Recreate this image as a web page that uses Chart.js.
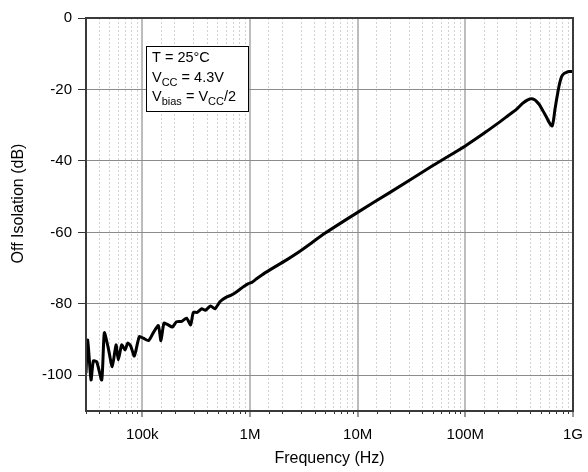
<!DOCTYPE html>
<html><head><meta charset="utf-8">
<script src="https://cdn.jsdelivr.net/npm/chart.js@4.4.1/dist/chart.umd.min.js"></script>
<style>html,body{margin:0;padding:0;background:#fff;}canvas{display:block;}</style>
</head><body>
<canvas id="c" width="588" height="472"></canvas>
<script>
// ---- data ----
const freqHz = [
  30000, 31100, 33400, 35100, 37700, 42000, 44400, 48300, 52600, 57000,
  59800, 64400, 69100, 73200, 78000, 84300, 93800, 102000, 114000, 126000,
  141000, 149000, 159000, 174000, 190000, 208000, 232000, 258000, 281000, 298000,
  324000, 356000, 386000, 430000, 473000, 526000, 598000, 676000, 753000, 852000,
  957000, 1040000, 1150000, 1290000, 1530000, 1830000, 2190000, 3000000, 5000000, 10000000,
  20000000, 50000000, 100000000, 150000000, 200000000, 250000000, 300000000, 340000000, 380000000, 413000000,
  440000000, 460000000, 485000000, 511000000, 540000000, 568000000, 600000000, 620000000, 641000000, 660000000,
  679000000, 705000000, 729000000, 755000000, 784000000, 820000000, 859000000, 920000000, 1000000000
];
const offIsolationDb = [
  -99.4, -90.1, -101.3, -96.0, -96.2, -101.3, -88.1, -92.4, -97.6, -91.5,
  -95.7, -91.5, -92.9, -91.0, -91.8, -94.6, -89.2, -89.6, -90.3, -88.2,
  -86.1, -90.3, -85.4, -85.9, -86.5, -85.0, -84.9, -84.0, -85.9, -82.4,
  -82.4, -81.4, -81.8, -80.6, -81.4, -79.4, -78.2, -77.5, -76.6, -75.4,
  -74.4, -74.0, -73.0, -71.9, -70.5, -69.1, -67.7, -65.0, -60.2, -54.4,
  -48.8, -41.3, -35.8, -32.2, -29.5, -27.3, -25.5, -23.9, -22.9, -22.6,
  -22.9, -23.4, -24.2, -25.3, -26.6, -27.8, -29.2, -29.9, -30.2, -28.5,
  -25.7, -22.7, -20.2, -18.0, -16.4, -15.6, -15.3, -15.0, -15.0
];
const xTickValues = [1e5, 1e6, 1e7, 1e8, 1e9];
const xTickText = ['100k', '1M', '10M', '100M', '1G'];
const yTickValues = [0, -20, -40, -60, -80, -100];
const xRange = [30000, 1e9];
const yRange = [-110, 0];
const xTitle = 'Frequency (Hz)';
const yTitle = 'Off Isolation (dB)';
// annotation lines: runs of [text, isSubscript]
const noteLines = [
  [['T = 25°C', false]],
  [['V', false], ['CC', true], [' = 4.3V', false]],
  [['V', false], ['bias', true], [' = V', false], ['CC', true], ['/2', false]]
];

// ---- chart ----
const FONT = '"Liberation Sans", Arial, sans-serif';
const isDecade = v => { const l = Math.log10(v); return Math.abs(l - Math.round(l)) < 1e-9; };

const decor = {
  id: 'decor',
  afterDraw(chart) {
    const {ctx, chartArea: a, scales: {x}} = chart;
    ctx.save();
    // minor tick marks on frequency axis
    ctx.strokeStyle = '#333'; ctx.lineWidth = 1;
    x.ticks.forEach(t => {
      if (!isDecade(t.value)) {
        const px = Math.round(x.getPixelForValue(t.value)) + 0.5;
        ctx.beginPath(); ctx.moveTo(px, a.bottom); ctx.lineTo(px, a.bottom + 3); ctx.stroke();
      }
    });
    // frame
    ctx.strokeStyle = '#3a3a3a'; ctx.lineWidth = 2;
    ctx.strokeRect(a.left, a.top, a.right - a.left, a.bottom - a.top);
    // y axis title (sits slightly above the plot centre in the reference)
    ctx.save();
    ctx.translate(19, (a.top + a.bottom) / 2 - 11);
    ctx.rotate(-Math.PI / 2);
    ctx.font = '16px ' + FONT; ctx.fillStyle = '#000';
    ctx.textAlign = 'center'; ctx.textBaseline = 'middle';
    ctx.fillText(yTitle, 0, 0);
    ctx.restore();
    // annotation box
    const bx = a.left + 60, by = a.top + 28, bw = 102, bh = 65;
    ctx.fillStyle = '#fff'; ctx.fillRect(bx, by, bw, bh);
    ctx.strokeStyle = '#000'; ctx.lineWidth = 1;
    ctx.strokeRect(bx + 0.5, by + 0.5, bw, bh);
    ctx.fillStyle = '#000'; ctx.textBaseline = 'alphabetic'; ctx.textAlign = 'left';
    const baselines = [by + 16, by + 36, by + 55];
    noteLines.forEach((runs, i) => {
      let cx = bx + 6;
      runs.forEach(([t, sub]) => {
        ctx.font = (sub ? '11px ' : '14.5px ') + FONT;
        ctx.fillText(t, cx, baselines[i] + (sub ? 4 : 0));
        cx += ctx.measureText(t).width;
      });
    });
    ctx.restore();
  }
};

new Chart(document.getElementById('c'), {
  type: 'line',
  data: {
    datasets: [{
      data: freqHz.map((f, i) => ({x: f, y: offIsolationDb[i]})),
      borderColor: '#000', borderWidth: 3, pointRadius: 0,
      tension: 0.2, fill: false, borderJoinStyle: 'round'
    }]
  },
  options: {
    responsive: false, animation: false,
    layout: {padding: {top: 18, right: 15, left: 0, bottom: 0}},
    plugins: {legend: {display: false}, tooltip: {enabled: false}},
    scales: {
      x: {
        type: 'logarithmic', min: xRange[0], max: xRange[1],
        afterFit: s => { s.height = 61; s.paddingLeft = 0; s.paddingRight = 0; },
        grid: {
          color: c => (c.tick && isDecade(c.tick.value)) ? '#bdbdbd' : '#d2d2d2',
          lineWidth: c => (c.tick && isDecade(c.tick.value)) ? 2 : 1,
          tickColor: c => (c.tick && isDecade(c.tick.value)) ? '#333' : 'rgba(0,0,0,0)',
          tickWidth: 1, tickLength: 6
        },
        border: {display: true, color: '#3a3a3a', width: 2,
          dash: c => (c.tick && !isDecade(c.tick.value)) ? [2, 2] : []},
        ticks: {
          autoSkip: false, maxRotation: 0, minRotation: 0, padding: 9,
          color: '#000', font: {family: FONT, size: 15},
          callback: v => { const i = xTickValues.indexOf(v); return i >= 0 ? xTickText[i] : ''; }
        },
        title: {display: true, text: xTitle, color: '#000', font: {family: FONT, size: 16}, padding: {top: 0, bottom: 4}}
      },
      y: {
        min: yRange[0], max: yRange[1],
        afterFit: s => { s.width = 86; s.paddingTop = 0; s.paddingBottom = 0; },
        grid: {color: '#8c8c8c', lineWidth: 1, tickColor: '#333', tickLength: 8},
        border: {display: true, color: '#3a3a3a', width: 2},
        ticks: {
          stepSize: 20, padding: 6, color: '#000', font: {family: FONT, size: 15},
          callback: v => yTickValues.includes(v) ? String(v) : null
        },
        title: {display: false}
      }
    }
  },
  plugins: [decor]
});
</script>
</body></html>
